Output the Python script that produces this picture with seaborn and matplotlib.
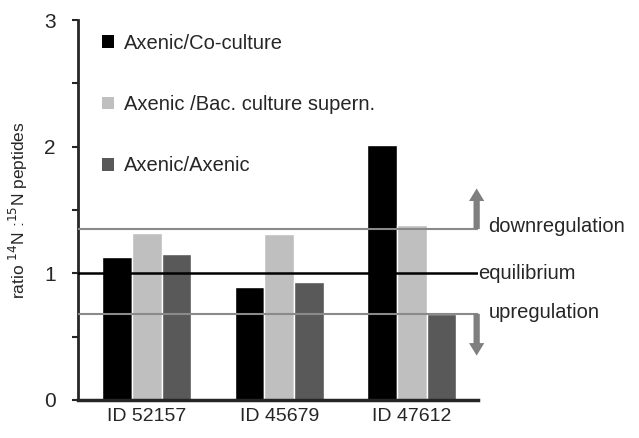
import matplotlib
matplotlib.use("Agg")
import matplotlib.pyplot as plt
from matplotlib.ticker import MultipleLocator
from matplotlib.patches import Patch
import seaborn as sns
import pandas as pd

# data
proteins = ["ID 52157", "ID 45679", "ID 47612"]
conditions = ["Axenic/Co-culture", "Axenic /Bac. culture supern.", "Axenic/Axenic"]
coculture = [1.13, 0.89, 2.01]
supernatant = [1.32, 1.31, 1.38]
axenic = [1.15, 0.93, 0.68]
thresholds = {"downregulation": 1.35, "equilibrium": 1.0, "upregulation": 0.68}

colors = ["#000000", "#bfbfbf", "#595959"]

df = pd.DataFrame({
    "protein": proteins * 3,
    "condition": [c for c in conditions for _ in proteins],
    "ratio": coculture + supernatant + axenic,
})

sns.set_style("white")
plt.rcParams["font.family"] = ["Liberation Sans", "DejaVu Sans"]

fig = plt.figure(figsize=(6.39, 4.38), dpi=100)
ax = fig.add_axes([0.122, 0.087, 0.626, 0.867])

sns.barplot(data=df, x="protein", y="ratio", hue="condition", hue_order=conditions,
            palette=colors, width=0.67, gap=0, saturation=1, ax=ax, legend=False)

ax.set_xlim(-0.52, 2.5)
ax.set_ylim(0, 3)

# reference lines
ax.axhline(thresholds["equilibrium"], color="black", lw=1.8, zorder=3)
ax.axhline(thresholds["downregulation"], color="#8a8a8a", lw=1.5, zorder=3)
ax.axhline(thresholds["upregulation"], color="#8a8a8a", lw=1.5, zorder=3)

arrow = dict(arrowstyle="simple,head_width=1.1,head_length=0.9,tail_width=0.45",
             color="#7f7f7f", lw=0, shrinkA=0, shrinkB=0)
ax.annotate("", xy=(2.49, 1.67), xytext=(2.49, thresholds["downregulation"]),
            arrowprops=arrow, annotation_clip=False)
ax.annotate("", xy=(2.49, 0.35), xytext=(2.49, thresholds["upregulation"]),
            arrowprops=arrow, annotation_clip=False)

ax.text(2.575, 1.37, "downregulation", fontsize=14.5, va="center", clip_on=False)
ax.text(2.5, 1.0, "equilibrium", fontsize=14.5, va="center", clip_on=False)
ax.text(2.585, 0.69, "upregulation", fontsize=14.5, va="center", clip_on=False)

# axes styling
for s in ["top", "right"]:
    ax.spines[s].set_visible(False)
ax.spines["left"].set_linewidth(2)
ax.spines["bottom"].set_linewidth(2.5)
ax.yaxis.set_major_locator(MultipleLocator(1))
ax.yaxis.set_minor_locator(MultipleLocator(0.5))
ax.tick_params(axis="y", which="both", direction="out", length=4, width=1.5, left=True,
               labelsize=15, pad=12)
ax.tick_params(axis="x", length=0, labelsize=14, pad=6)
ax.set_xlabel("")
ax.set_ylabel("ratio $^{14}$N :$^{15}$N peptides", fontsize=12.5, labelpad=10)

handles = [Patch(facecolor=c, edgecolor="none") for c in colors]
ax.legend(handles, conditions, loc="upper left", bbox_to_anchor=(0.04, 0.985),
          borderaxespad=0, frameon=False, fontsize=14.5, labelspacing=2.1,
          handlelength=0.6, handleheight=0.6, handletextpad=0.5)

fig.savefig("out.png", dpi=100)
